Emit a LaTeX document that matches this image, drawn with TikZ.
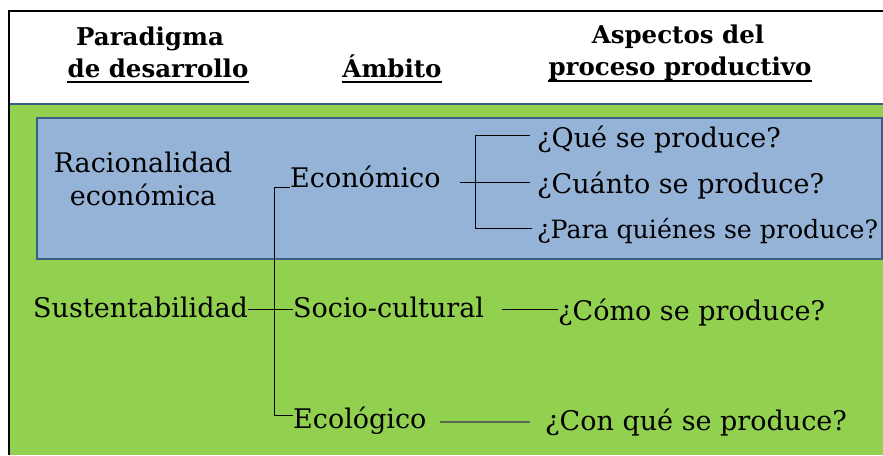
\documentclass[tikz,border=0pt]{standalone}
\usepackage{fontspec}
\setmainfont{DejaVu Serif}
\definecolor{verde}{HTML}{92D050}
\definecolor{azul}{HTML}{95B3D7}
\definecolor{borde}{HTML}{3B5E85}
\definecolor{gris}{HTML}{5A6A50}
\begin{document}
\begin{tikzpicture}[x=1pt,y=-1pt,
  txt/.style={anchor=base west, inner sep=0pt, font=\fontsize{27}{32}\selectfont},
  hdr/.style={anchor=base, inner sep=0pt, font=\fontsize{24.5}{29}\selectfont\bfseries},
  conn/.style={line width=0.9pt, black},
  uline/.style={line width=1.6pt, black}]
\useasboundingbox (0,0) rectangle (883,455);
\fill[white] (0,0) rectangle (883,455);
% green panel
\fill[verde] (10,104) rectangle (883,455);
\draw[borde, line width=2pt] (10,104) -- (883,104);
% black frame
\draw[black, line width=1.5pt] (9,455) -- (9,11) -- (883,11);
% blue box
\draw[fill=azul, draw=borde, line width=2pt] (37,118) rectangle (882,259);

% headers
\node[hdr] (h1a) at (150,45) {Paradigma};
\node[hdr] (h1b) at (158,77) {de desarrollo};
\node[hdr] (h2) at (392,77) {Ámbito};
\node[hdr] (h3a) at (678,43) {Aspectos del};
\node[hdr] (h3b) at (680,75) {proceso productivo};
\draw[uline] ([yshift=-5pt]h1b.base west) -- ([yshift=-5pt]h1b.base east);
\draw[uline] ([yshift=-5pt]h2.base west) -- ([yshift=-5pt]h2.base east);
\draw[uline] ([yshift=-6pt]h3b.base west) -- ([yshift=-6pt]h3b.base east);

% paradigms
\node[txt, anchor=base, align=center] (rac) at (143,205) {Racionalidad\\[1pt]económica};
\node[txt] (sus) at (33,317) {Sustentabilidad};

% ambitos
\node[txt] (eco) at (290,187) {Económico};
\node[txt] (soc) at (293,317) {Socio-cultural};
\node[txt] (ecol) at (293,428) {Ecológico};

% aspects
\node[txt] (q1) at (537,147) {¿Qué se produce?};
\node[txt] (q2) at (537,193) {¿Cuánto se produce?};
\node[txt, font=\fontsize{25.2}{30}\selectfont] (q3) at (537,238) {¿Para quiénes se produce?};
\node[txt] (como) at (558,320) {¿Cómo se produce?};
\node[txt] (con) at (545,430) {¿Con qué se produce?};

% junctions
\coordinate (jtop) at (274,187);
\coordinate (jbot) at (274,415);
\coordinate (bt) at (475,135);
\coordinate (bb) at (475,228);
\coordinate (bm) at (460,182);
\coordinate (s1) at (502,309);
\coordinate (e1) at (440,422);

% connectors
\draw[conn] (eco.base west) -- (jtop) -- (jbot) -- (ecol.west |- jbot);
\draw[conn] (sus.east |- 0,309) -- (soc.west |- 0,309);
\draw[conn] ([xshift=-7pt]q1.west |- bt) -- (bt) -- (bb) -- ([xshift=-5pt]q3.west |- bb);
\draw[conn] (bm) -- ([xshift=-7pt]q2.west |- bm);
\draw[conn] (s1) -- (como.west |- s1);
\draw[gris, line width=1.8pt] (e1) -- ([xshift=-15pt]con.west |- e1);
\end{tikzpicture}
\end{document}
